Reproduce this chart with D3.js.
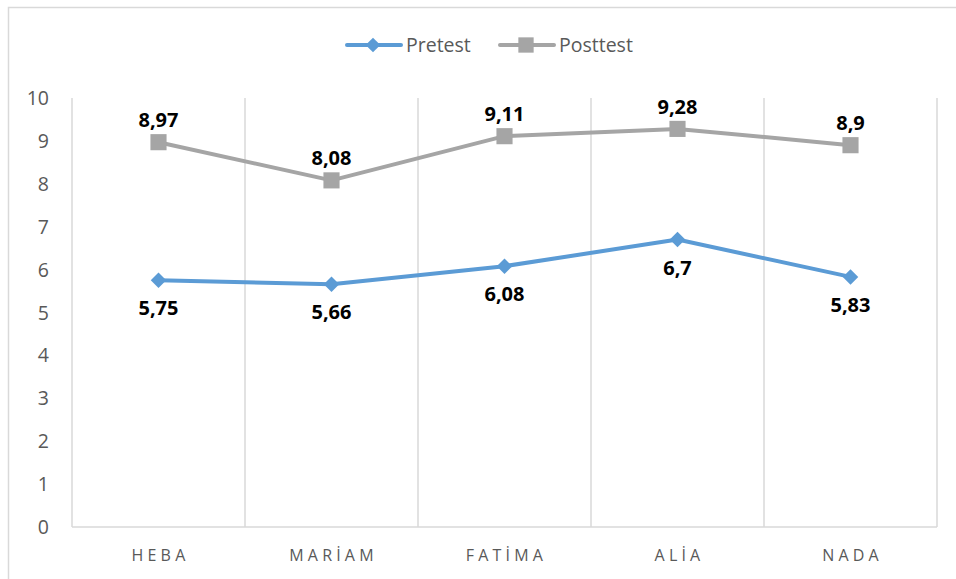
<!DOCTYPE html>
<html>
<head>
<meta charset="utf-8">
<script src="https://cdnjs.cloudflare.com/ajax/libs/d3/7.8.5/d3.min.js"></script>
<style>
  body { margin: 0; background: #fff; }
  svg { display: block; font-family: "Open Sans", Lato, sans-serif; }
</style>
</head>
<body>
<script>
/* Data */
var categories = ["HEBA", "MARİAM", "FATİMA", "ALİA", "NADA"];
var pretest = [5.75, 5.66, 6.08, 6.7, 5.83];
var posttest = [8.97, 8.08, 9.11, 9.28, 8.9];
var yTicks = [0, 1, 2, 3, 4, 5, 6, 7, 8, 9, 10];

var width = 956, height = 579,
    plot = {left: 72, right: 937, top: 98, bottom: 527},
    blue = "#5B9BD5", grey = "#A5A5A5", gridColor = "#D9D9D9";

var svg = d3.select("body").append("svg")
    .attr("width", width)
    .attr("height", height);

// outer chart border
svg.append("rect")
    .attr("x", 8.5).attr("y", 7.5)
    .attr("width", 1000).attr("height", 700)
    .style("fill", "white")
    .style("stroke", gridColor)
    .style("stroke-width", 1.5);

var x = d3.scaleBand().domain(categories).range([plot.left, plot.right]),
    y = d3.scaleLinear().domain([0, 10]).range([plot.bottom, plot.top]);

// vertical gridlines at category boundaries
var bounds = categories.map(function(c) { return x(c); }).concat([plot.right]);
svg.append("g").selectAll("line")
    .data(bounds)
    .enter().append("line")
        .attr("x1", function(d) { return d; })
        .attr("x2", function(d) { return d; })
        .attr("y1", plot.top)
        .attr("y2", plot.bottom)
        .style("stroke", gridColor)
        .style("stroke-width", 1.5);

// x axis line
svg.append("line")
    .attr("x1", plot.left).attr("x2", plot.right)
    .attr("y1", plot.bottom).attr("y2", plot.bottom)
    .style("stroke", gridColor)
    .style("stroke-width", 1.5);

// y tick labels
svg.append("g").selectAll("text")
    .data(yTicks)
    .enter().append("text")
        .attr("x", 49)
        .attr("y", function(d) { return y(d); })
        .attr("dy", "0.36em")
        .attr("text-anchor", "end")
        .style("font-size", "19.5px")
        .style("fill", "#595959")
        .text(function(d) { return d; });

// category labels
svg.append("g").selectAll("text")
    .data(categories)
    .enter().append("text")
        .attr("x", function(d) { return x(d) + x.bandwidth() / 2 + 2; })
        .attr("y", 561)
        .attr("text-anchor", "middle")
        .style("font-size", "16px")
        .style("letter-spacing", "4.2px")
        .style("fill", "#595959")
        .text(function(d) { return d; });

var cx = function(d, i) { return x(categories[i]) + x.bandwidth() / 2; };
var line = d3.line()
    .x(function(d, i) { return cx(d, i); })
    .y(function(d) { return y(d); });

var series = [
    {name: "Pretest", values: pretest, color: blue, symbol: d3.symbolSquare, size: 120, rotate: 45, below: true},
    {name: "Posttest", values: posttest, color: grey, symbol: d3.symbolSquare, size: 260, rotate: 0, below: false}
];

series.forEach(function(s) {
    svg.append("path")
        .datum(s.values)
        .attr("d", line)
        .style("fill", "none")
        .style("stroke", s.color)
        .style("stroke-width", 4)
        .style("stroke-linejoin", "round")
        .style("stroke-linecap", "round");

    svg.append("g").selectAll("path")
        .data(s.values)
        .enter().append("path")
            .attr("transform", function(d, i) { return "translate(" + cx(d, i) + "," + y(d) + ") rotate(" + s.rotate + ")"; })
            .attr("d", d3.symbol().type(s.symbol).size(s.size))
            .style("fill", s.color);

    svg.append("g").selectAll("text")
        .data(s.values)
        .enter().append("text")
            .attr("x", function(d, i) { return cx(d, i); })
            .attr("y", function(d) { return s.below ? y(d) + 35 : y(d) - 15; })
            .attr("text-anchor", "middle")
            .style("font-size", "20px")
            .style("font-weight", "bold")
            .style("fill", "#000")
            .text(function(d) { return String(d).replace(".", ","); });
});

// legend
var legend = svg.append("g");
var legendItems = [
    {s: series[0], x: 347},
    {s: series[1], x: 500}
];
legendItems.forEach(function(it) {
    var g = legend.append("g").attr("transform", "translate(" + it.x + ",45)");
    g.append("line")
        .attr("x1", 0).attr("x2", 54)
        .style("stroke", it.s.color)
        .style("stroke-width", 4)
        .style("stroke-linecap", "round");
    g.append("path")
        .attr("transform", "translate(26,0) rotate(" + it.s.rotate + ")")
        .attr("d", d3.symbol().type(it.s.symbol).size(it.s.size * 0.9))
        .style("fill", it.s.color);
    g.append("text")
        .attr("x", 59)
        .attr("dy", "0.36em")
        .style("font-size", "19.5px")
        .style("fill", "#595959")
        .text(it.s.name);
});
</script>
</body>
</html>
